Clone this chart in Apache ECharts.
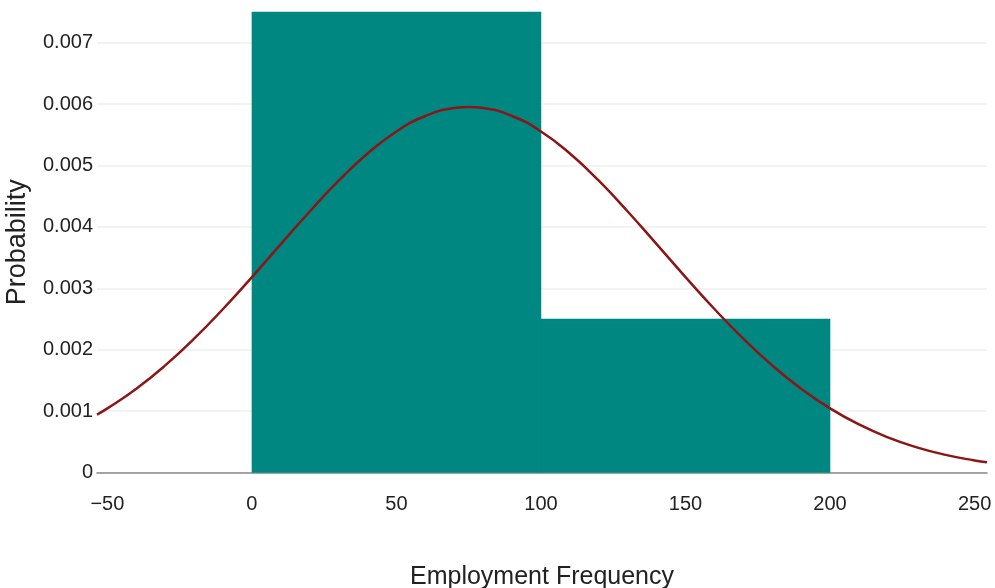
<!DOCTYPE html>
<html>
<head>
<meta charset="utf-8">
<script src="https://cdn.jsdelivr.net/npm/echarts@6/dist/echarts.min.js"></script>
<style>
html,body{margin:0;padding:0;background:#fff;}
#chart{width:995px;height:588px;}
</style>
</head>
<body>
<div id="chart"></div>
<script>
// Histogram bins: [start, end, probability density]
const binStarts = [0, 100];
const binEnds = [100, 200];
const binHeights = [0.0075, 0.0025];

// Fitted density curve
const curveX = [-53.6, -50, -40, -30, -20, -10, 0, 10, 20, 30, 40, 50, 60, 70, 75, 80, 90, 100, 110, 120, 130, 140, 150, 160, 170, 180, 190, 200, 210, 220, 230, 240, 250, 254.3];
const curveY = [0.000944, 0.001044, 0.001365, 0.001744, 0.002179, 0.002663, 0.003182, 0.003719, 0.004251, 0.004752, 0.005195, 0.005554, 0.005806, 0.005937, 0.005954, 0.005937, 0.005806, 0.005554, 0.005195, 0.004752, 0.004251, 0.003719, 0.003182, 0.002663, 0.002179, 0.001744, 0.001365, 0.001044, 0.000782, 0.000572, 0.000410, 0.000287, 0.000196, 0.000166];

// Axis ticks
const xTicks = [-50, 0, 50, 100, 150, 200, 250];
const yTicks = [0, 0.001, 0.002, 0.003, 0.004, 0.005, 0.006, 0.007];

const xMin = -53.6, xMax = 254.3, yMax = 0.0075;

const textColor = '#222';
const font = 'Liberation Sans, Arial, sans-serif';

const chart = echarts.init(document.getElementById('chart'), null, {renderer: 'canvas'});

const histData = binStarts.map((s, i) => [s, binEnds[i], binHeights[i]]);
const curveData = curveX.map((x, i) => [x, curveY[i]]);

chart.setOption({
  animation: false,
  backgroundColor: '#fff',
  grid: {left: 97, right: 8, top: 12, bottom: 115.5, containLabel: false, outerBoundsMode: 'none'},
  xAxis: {
    type: 'value',
    min: xMin,
    max: xMax,
    name: 'Employment Frequency',
    nameLocation: 'middle',
    nameGap: 92,
    nameTextStyle: {fontSize: 25, color: textColor, fontFamily: font},
    axisLine: {show: true, lineStyle: {color: '#888', width: 1.5}},
    axisTick: {show: false},
    splitLine: {show: false},
    axisLabel: {
      customValues: xTicks,
      fontSize: 20,
      color: textColor,
      fontFamily: font,
      margin: 22,
      formatter: v => (v < 0 ? '\u2212' + Math.abs(v) : String(v))
    }
  },
  yAxis: {
    type: 'value',
    min: 0,
    max: yMax,
    name: 'Probability',
    nameLocation: 'middle',
    nameGap: 66,
    nameTextStyle: {fontSize: 27, color: textColor, fontFamily: font},
    axisLine: {show: false},
    axisTick: {show: false, customValues: yTicks},
    splitLine: {show: true, lineStyle: {color: '#efefef', width: 1.5}},
    axisLabel: {
      customValues: yTicks,
      fontSize: 20,
      color: textColor,
      fontFamily: font,
      margin: 4,
      formatter: v => (v === 0 ? '0' : v.toFixed(3))
    }
  },
  series: [
    {
      type: 'custom',
      data: histData,
      encode: {x: [0, 1], y: 2},
      renderItem: function (params, api) {
        const p0 = api.coord([api.value(0), api.value(2)]);
        const p1 = api.coord([api.value(1), 0]);
        return {
          type: 'rect',
          shape: {x: p0[0], y: p0[1], width: p1[0] - p0[0], height: p1[1] - p0[1]},
          style: {fill: '#018782', stroke: '#018782', lineWidth: 0.5}
        };
      },
      z: 2
    },
    {
      type: 'line',
      data: curveData,
      smooth: true,
      showSymbol: false,
      lineStyle: {color: '#8c1515', width: 2.5},
      z: 3
    }
  ]
});
</script>
</body>
</html>
